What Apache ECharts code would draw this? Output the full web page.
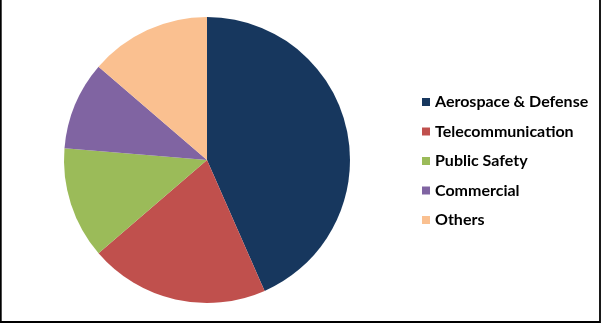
<!DOCTYPE html>
<html><head><meta charset="utf-8">
<script src="https://cdn.jsdelivr.net/npm/echarts@6/dist/echarts.min.js"></script>
<style>html,body{margin:0;padding:0;background:#fff}#c{width:601px;height:323px}</style>
</head><body><div id="c"></div>
<script>
const categories = ["Aerospace & Defense", "Telecommunication", "Public Safety", "Commercial", "Others"];
const values = [43.4, 20.3, 12.6, 10.0, 13.7];
const colors = ["#17375E", "#C0504D", "#9BBB59", "#8064A2", "#FAC090"];

const chart = echarts.init(document.getElementById('c'), null, {renderer: 'canvas'});
chart.setOption({
  animation: false,
  backgroundColor: '#fff',
  color: colors,
  graphic: [{
    type: 'polyline', silent: true,
    shape: {points: [[0.8, 0], [0.8, 322], [600, 322], [600, 0]]},
    style: {fill: 'none', stroke: '#000', lineWidth: 1.8}
  }],
  legend: {
    orient: 'vertical', left: 422, top: 93, padding: 0,
    itemWidth: 8, itemHeight: 8, itemGap: 11.5, icon: 'rect',
    textStyle: {fontFamily: 'Lato', fontWeight: 'bold', fontSize: 16, lineHeight: 18, color: '#000'},
    data: categories
  },
  series: [{
    type: 'pie', center: [207, 160], radius: 143, startAngle: 90, clockwise: true,
    label: {show: false}, labelLine: {show: false},
    itemStyle: {borderWidth: 0},
    emphasis: {disabled: true},
    data: categories.map((n, i) => ({name: n, value: values[i]}))
  }]
});
</script></body></html>
